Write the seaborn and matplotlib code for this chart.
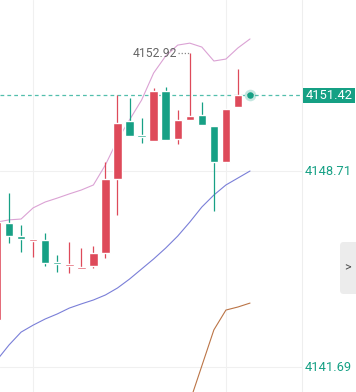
import numpy as np
import matplotlib
matplotlib.use("Agg")
import matplotlib.pyplot as plt
import seaborn as sns
from matplotlib import patches, transforms

# candle data (red = up, green = down), index 0 is the partly hidden one at the left edge
opens = [4143.37, 4146.85, 4146.38, 4146.20, 4146.24, 4145.45, 4145.31, 4145.20, 4145.31, 4145.77, 4148.42,
         4150.50, 4150.00, 4149.78, 4151.58, 4149.86, 4150.54, 4150.72, 4150.32, 4149.03, 4151.00, 4151.42]
highs = [4146.88, 4147.92, 4146.78, 4146.27, 4146.49, 4145.70, 4146.17, 4145.95, 4146.02, 4149.03, 4151.43,
         4151.32, 4150.61, 4151.68, 4151.72, 4150.89, 4152.92, 4151.18, 4150.32, 4150.93, 4152.36, 4151.42]
lows = [4143.37, 4146.13, 4145.81, 4145.63, 4145.31, 4145.09, 4145.06, 4145.20, 4145.24, 4145.59, 4147.13,
        4149.96, 4149.71, 4149.78, 4149.82, 4149.68, 4150.54, 4150.36, 4147.28, 4149.03, 4151.00, 4151.42]
closes = [4146.88, 4146.38, 4146.27, 4146.27, 4145.41, 4145.38, 4145.34, 4145.22, 4145.77, 4148.42, 4150.43,
          4149.96, 4149.93, 4151.58, 4149.82, 4150.54, 4150.68, 4150.36, 4149.03, 4150.93, 4151.42, 4151.42]

# indicator lines
upper_band = [4146.88, 4146.96, 4146.99, 4147.39, 4147.60, 4147.74, 4147.89, 4148.03, 4148.21, 4148.93, 4149.82,
              4150.54, 4151.25, 4152.22, 4152.83, 4153.22, 4153.29, 4153.15, 4152.65, 4152.72, 4153.12, 4153.44]
lower_band = [4141.94, 4142.48, 4142.94, 4143.19, 4143.41, 4143.59, 4143.80, 4143.95, 4144.09, 4144.27, 4144.52,
              4144.84, 4145.20, 4145.56, 4145.95, 4146.38, 4146.88, 4147.42, 4147.85, 4148.21, 4148.46, 4148.71]
slow_ma_idx = [16, 17, 18, 19, 20, 21]
slow_ma = [4140.44, 4141.73, 4143.02, 4143.73, 4143.84, 4143.98]

last_price = 4151.42
day_high = 4152.92
axis_labels = [4148.71, 4141.69]

RED = "#de4a5a"
GREEN = "#17a085"
TEAL = "#15a084"

sns.set_theme(style="white")
plt.rcParams['font.family'] = ['Roboto', 'DejaVu Sans']

fig = plt.figure(figsize=(3.56, 3.92), dpi=100)
ax = fig.add_axes([0, 0, 1, 1])
ax.set_xlim(0.25, 29.795)
ax.set_ylim(4140.795, 4154.835)
ax.axis("off")

idx = np.arange(len(opens))
o = np.array(opens)
c = np.array(closes)
colors = [RED if cc >= oo else GREEN for oo, cc in zip(o, c)]

# grid
sep = 302 / 356
for gx in [3, 19]:
    ax.axvline(gx, color="#f0f0f0", lw=0.8, zorder=0)
ax.axvline(25.31, color="#eeeeee", lw=0.8, zorder=0)
for gy in axis_labels:
    ax.axhline(gy, xmin=0, xmax=sep, color="#f0f0f0", lw=0.8, zorder=0)

# indicators
sns.lineplot(x=idx, y=upper_band, ax=ax, color="#dba2d4", lw=0.8, zorder=2)
sns.lineplot(x=idx, y=lower_band, ax=ax, color="#7a7fd8", lw=0.8, zorder=2)
sns.lineplot(x=slow_ma_idx, y=slow_ma, ax=ax, color="#bb7446", lw=0.8, zorder=2)

# candles
ax.vlines(idx, lows, highs, colors=colors, lw=0.9, zorder=3)
bottoms = np.minimum(o, c)
heights = np.maximum(np.abs(c - o), 0.07)
ax.bar(idx, heights, bottom=bottoms, width=0.7, color=colors, zorder=4)

# last price line and marker
ax.axhline(last_price, xmin=0, xmax=sep, color="#52bfac", lw=0.9, ls=(0, (3, 2.5)), zorder=1)
ax.scatter([idx[-1]], [last_price], s=70, color=TEAL, alpha=0.25, lw=0, zorder=5)
ax.scatter([idx[-1]], [last_price], s=22, color=TEAL, lw=0, zorder=6)

# high marker
hi = int(np.argmax(highs))
ax.hlines(day_high, hi - 0.95, hi - 0.1, colors="#888888", lw=0.9, ls=(0, (1, 1.5)), zorder=3)
ax.text(hi - 1.05, day_high, f"{day_high:.2f}", ha="right", va="center",
        fontsize=8.7, color="#666666")

# price axis labels
trans = transforms.blended_transform_factory(ax.transAxes, ax.transData)
for v in axis_labels:
    ax.text(305 / 356, v, f"{v:.2f}", transform=trans, ha="left", va="center",
            fontsize=9.3, color=TEAL)
ax.add_patch(patches.Rectangle((303 / 356, last_price - 0.27), 52 / 356, 0.52,
                               transform=trans, color=TEAL, lw=0, zorder=6))
ax.text(329 / 356, last_price, f"{last_price:.2f}", transform=trans, ha="center", va="center",
        fontsize=9.3, color="white", zorder=7)

# side tab
ax.add_patch(patches.FancyBboxPatch((340 / 356, 1 - 294 / 392), 30 / 356, 52 / 392,
                                    boxstyle="round,pad=0,rounding_size=0.01",
                                    transform=ax.transAxes, color="#ececec", lw=0, zorder=6))
ax.text(347 / 356, 1 - 268 / 392, ">", transform=ax.transAxes, ha="center", va="center",
        fontsize=9, color="#555555", zorder=7)

fig.savefig("out.png", dpi=100)
